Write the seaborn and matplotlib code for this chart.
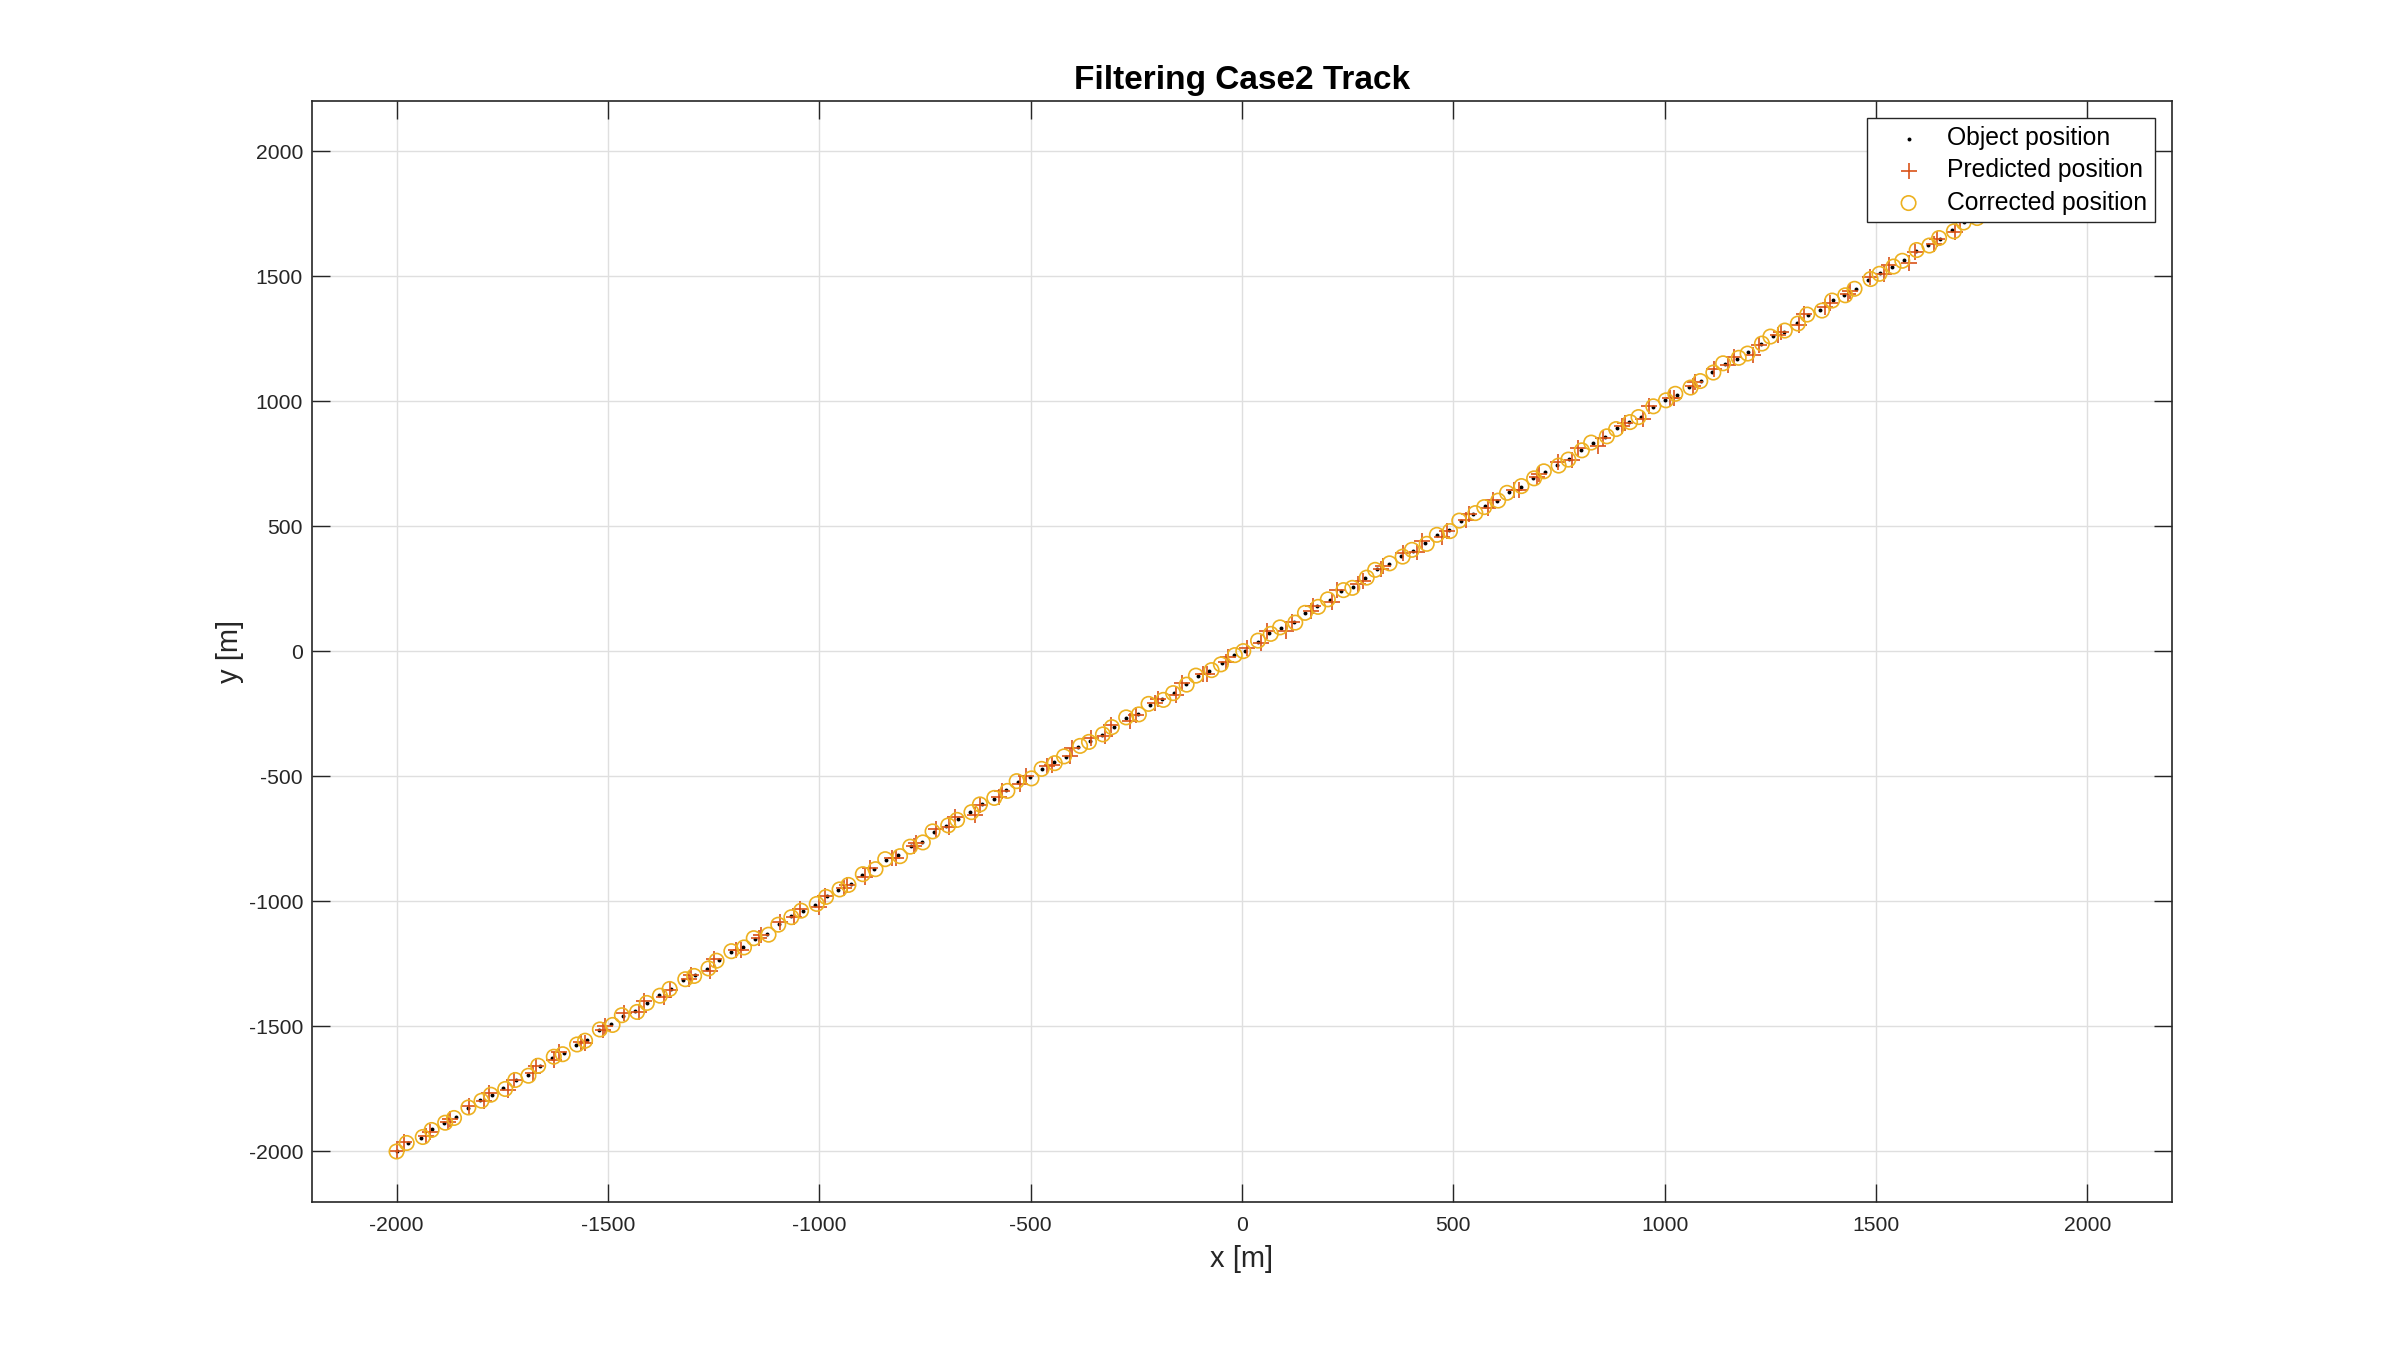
"""
Filtering Case2 Track: object, predicted and corrected positions (MATLAB-style look).
"""

import matplotlib
matplotlib.use("Agg")
import matplotlib.pyplot as plt
import seaborn as sns

# ---------------------------------------------------------------------
# Data
# ---------------------------------------------------------------------

obj_x = [-2000, -1972, -1943, -1915, -1888, -1859, -1831, -1802, -1774, -1747,
         -1718, -1690, -1661, -1633, -1605, -1576, -1549, -1520, -1492, -1464,
         -1435, -1407, -1379, -1350, -1322, -1294, -1265, -1238, -1209, -1181,
         -1152, -1124, -1096, -1068, -1039, -1011, -982, -955, -926, -898,
         -870, -841, -813, -784, -757, -728, -700, -672, -643, -615,
         -587, -558, -530, -502, -473, -445, -417, -388, -360, -332,
         -303, -275, -247, -218, -190, -162, -133, -105, -77, -48,
         -20, 8, 37, 65, 93, 122, 150, 178, 207, 235,
         263, 292, 320, 348, 377, 405, 433, 462, 490, 518,
         547, 575, 603, 632, 660, 688, 717, 745, 773, 802,
         830, 858, 887, 915, 943, 972, 1000, 1028, 1057, 1085,
         1113, 1142, 1170, 1198, 1227, 1255, 1283, 1312, 1340, 1368,
         1397, 1425, 1453, 1482, 1510, 1538, 1567, 1595, 1623, 1652,
         1680, 1708, 1737, 1765, 1793, 1822, 1850, 1878, 1907, 1935,
         1963, 1992]
obj_y = [-2000, -1968, -1946, -1909, -1886, -1864, -1828, -1795, -1776, -1746,
         -1713, -1694, -1659, -1625, -1606, -1573, -1555, -1516, -1492, -1458,
         -1438, -1405, -1374, -1352, -1315, -1293, -1269, -1235, -1203, -1182,
         -1150, -1129, -1092, -1060, -1039, -1014, -977, -953, -932, -895,
         -869, -834, -815, -780, -761, -722, -700, -669, -644, -610,
         -590, -556, -522, -504, -469, -444, -422, -382, -357, -333,
         -301, -268, -250, -213, -190, -166, -130, -99, -79, -47,
         -16, 3, 39, 72, 93, 119, 155, 181, 206, 241,
         259, 294, 328, 348, 381, 403, 434, 467, 484, 521,
         549, 582, 602, 636, 657, 694, 717, 747, 768, 807,
         833, 856, 894, 916, 939, 976, 1006, 1027, 1059, 1082,
         1118, 1150, 1170, 1196, 1230, 1261, 1279, 1313, 1344, 1367,
         1404, 1427, 1448, 1485, 1515, 1538, 1564, 1601, 1625, 1650,
         1684, 1716, 1736, 1768, 1789, 1827, 1851, 1884, 1905, 1938,
         1963, 1996]

pred_x = [-2000, -1982, -1931, -1920, -1879, -1873, -1828, -1794, -1781, -1736,
          -1722, -1677, -1670, -1627, -1615, -1564, -1554, -1511, -1506, -1461,
          -1427, -1414, -1368, -1354, -1309, -1303, -1259, -1248, -1197, -1186,
          -1143, -1138, -1093, -1060, -1046, -1000, -986, -942, -935, -892,
          -880, -829, -818, -775, -771, -725, -692, -679, -632, -619,
          -574, -567, -524, -512, -461, -450, -408, -402, -357, -324,
          -310, -264, -251, -205, -199, -156, -143, -93, -82, -39,
          -34, 11, 45, 58, 104, 118, 163, 169, 213, 225,
          275, 287, 329, 334, 380, 413, 426, 473, 486, 531,
          538, 581, 593, 644, 655, 697, 703, 748, 781, 795,
          841, 854, 900, 906, 949, 962, 1012, 1023, 1066, 1071,
          1116, 1150, 1163, 1209, 1223, 1268, 1274, 1318, 1330, 1380,
          1392, 1434, 1439, 1485, 1518, 1531, 1578, 1591, 1636, 1643,
          1686, 1698, 1749, 1760, 1802, 1808, 1853, 1886, 1900, 1946,
          1959, 2005]
pred_y = [-2000, -1964, -1937, -1921, -1883, -1870, -1817, -1799, -1768, -1756,
          -1716, -1688, -1660, -1633, -1602, -1564, -1567, -1513, -1498, -1447,
          -1442, -1397, -1384, -1355, -1309, -1294, -1277, -1231, -1194, -1194,
          -1147, -1135, -1081, -1064, -1031, -1024, -980, -947, -933, -903,
          -865, -825, -827, -777, -767, -711, -704, -661, -654, -613,
          -584, -557, -530, -500, -460, -456, -419, -388, -346, -337,
          -293, -278, -253, -207, -191, -174, -126, -90, -91, -44,
          -22, 14, 35, 80, 83, 116, 161, 180, 198, 245,
          268, 282, 331, 342, 392, 399, 442, 457, 481, 527,
          548, 574, 606, 645, 645, 697, 711, 758, 764, 815,
          823, 853, 900, 915, 931, 980, 1015, 1015, 1062, 1076,
          1129, 1146, 1178, 1186, 1227, 1267, 1278, 1305, 1348, 1376,
          1392, 1430, 1442, 1496, 1511, 1546, 1554, 1598, 1631, 1649,
          1676, 1720, 1745, 1756, 1792, 1821, 1862, 1880, 1913, 1928,
          1960, 2002]

corr_x = [-2000, -1976, -1938, -1917, -1885, -1864, -1830, -1799, -1777, -1743,
          -1719, -1688, -1665, -1628, -1607, -1573, -1554, -1519, -1489, -1467,
          -1431, -1408, -1377, -1354, -1317, -1296, -1262, -1243, -1208, -1178,
          -1155, -1120, -1097, -1066, -1043, -1006, -984, -952, -931, -897,
          -867, -844, -809, -785, -755, -732, -695, -674, -640, -620,
          -586, -555, -533, -498, -474, -443, -421, -383, -362, -329,
          -308, -274, -244, -221, -186, -163, -131, -109, -72, -50,
          -17, 3, 38, 68, 90, 126, 149, 180, 203, 240,
          261, 295, 315, 349, 380, 402, 437, 461, 492, 514,
          552, 573, 606, 627, 661, 691, 714, 749, 772, 804,
          826, 863, 885, 918, 938, 973, 1003, 1025, 1061, 1084,
          1115, 1138, 1175, 1196, 1230, 1250, 1284, 1315, 1337, 1372,
          1396, 1427, 1449, 1487, 1508, 1541, 1562, 1596, 1626, 1649,
          1684, 1707, 1739, 1761, 1798, 1820, 1853, 1873, 1908, 1938,
          1960, 1996]
corr_y = [-2000, -1966, -1942, -1914, -1885, -1866, -1824, -1797, -1773, -1750,
          -1714, -1697, -1657, -1621, -1611, -1572, -1557, -1512, -1494, -1455,
          -1442, -1406, -1377, -1350, -1311, -1298, -1268, -1237, -1199, -1184,
          -1147, -1133, -1093, -1063, -1037, -1010, -982, -952, -934, -891,
          -871, -831, -819, -781, -764, -720, -696, -674, -643, -612,
          -586, -558, -519, -508, -470, -447, -420, -378, -362, -332,
          -303, -264, -252, -210, -194, -167, -133, -97, -75, -52,
          -15, 1, 43, 70, 96, 115, 154, 178, 208, 245,
          254, 295, 326, 352, 379, 406, 430, 466, 481, 523,
          553, 577, 603, 634, 661, 692, 720, 743, 767, 804,
          835, 860, 889, 917, 937, 980, 1004, 1030, 1055, 1081,
          1115, 1152, 1174, 1191, 1231, 1259, 1283, 1311, 1347, 1363,
          1403, 1424, 1450, 1489, 1510, 1539, 1562, 1605, 1623, 1653,
          1680, 1715, 1733, 1770, 1793, 1822, 1852, 1882, 1909, 1936,
          1966, 1992]

TICKS = [-2000, -1500, -1000, -500, 0, 500, 1000, 1500, 2000]
LIMITS = (-2200, 2200)

# MATLAB default colour order
PRED_COLOR = "#D95319"
CORR_COLOR = "#EDB120"
DARK = "#262626"

# ---------------------------------------------------------------------
# Plot
# ---------------------------------------------------------------------

sns.set_theme(style="whitegrid")
plt.rcParams["font.family"] = ["Liberation Sans", "DejaVu Sans"]
plt.rcParams["axes.unicode_minus"] = False

fig = plt.figure(figsize=(12, 6.75), dpi=200)
fig.patch.set_facecolor("white")
ax = fig.add_axes([0.13, 0.11, 0.775, 0.815])

sns.scatterplot(x=obj_x, y=obj_y, ax=ax, marker="o", s=2.0, color="black",
                linewidth=0, label="Object position", zorder=3)
sns.scatterplot(x=pred_x, y=pred_y, ax=ax, marker="+", s=30, color=PRED_COLOR,
                linewidth=0.6, label="Predicted position", zorder=4)
sns.scatterplot(x=corr_x, y=corr_y, ax=ax, marker="o", s=27, color=CORR_COLOR,
                facecolor="none", edgecolor=CORR_COLOR, linewidth=0.6,
                label="Corrected position", zorder=5)

ax.set_xlim(*LIMITS)
ax.set_ylim(*LIMITS)
ax.set_xticks(TICKS)
ax.set_yticks(TICKS)
ax.set_xticklabels([str(t) for t in TICKS])
ax.set_yticklabels([str(t) for t in TICKS])

# grid + frame
ax.grid(True, color="#dfdfdf", linewidth=0.5)
ax.set_axisbelow(True)
for side in ["left", "right", "top", "bottom"]:
    ax.spines[side].set_visible(True)
    ax.spines[side].set_color(DARK)
    ax.spines[side].set_linewidth(0.6)

ax.tick_params(axis="both", which="major", direction="in", length=6.5, width=0.5,
               bottom=True, left=True, top=True, right=True,
               colors=DARK, labelsize=7.6)
ax.tick_params(axis="x", pad=5.3)
ax.tick_params(axis="y", pad=3.2)

ax.set_title("Filtering Case2 Track", fontsize=12, fontweight="bold",
             color="black", pad=4.3)
ax.set_xlabel("x [m]", fontsize=10.5, color=DARK, labelpad=3.5)
ax.set_ylabel("y [m]", fontsize=10.5, color=DARK, labelpad=1.5)

leg = ax.legend(loc="upper right", fontsize=8.9, frameon=True, fancybox=False,
                framealpha=1, edgecolor=DARK, borderaxespad=0.69,
                borderpad=0.32, labelspacing=0.33, handletextpad=0.2,
                handlelength=2.7, scatterpoints=1)
leg.get_frame().set_linewidth(0.5)
leg.set_zorder(10)
for text in leg.get_texts():
    text.set_color("black")

fig.savefig("out.png", dpi=200)
